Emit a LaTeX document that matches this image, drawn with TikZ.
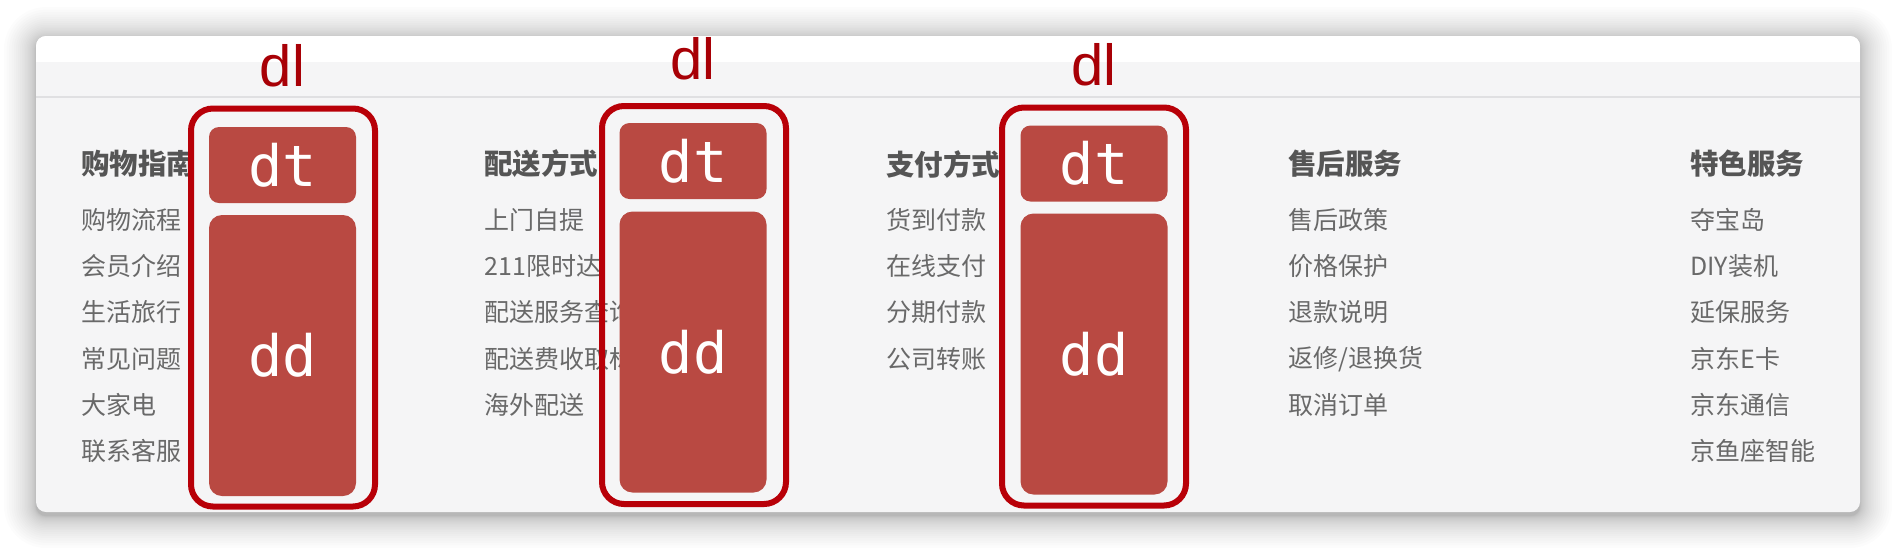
\documentclass[tikz,border=0pt]{standalone}
\usepackage{fontspec}
\setmainfont{Liberation Sans}
\newfontfamily\cjk{Noto Sans CJK SC}
\newfontfamily\mono{DejaVu Sans Mono}
\definecolor{cardbg}{RGB}{245,245,246}
\definecolor{dlred}{RGB}{184,0,8}
\definecolor{boxred}{RGB}{185,73,66}
\definecolor{lblred}{RGB}{168,0,6}
\definecolor{hdrgray}{RGB}{85,85,85}
\definecolor{itmgray}{RGB}{105,105,105}
\definecolor{linegray}{RGB}{224,224,226}
\begin{document}
\begin{tikzpicture}[x=0.5pt,y=-0.5pt,
  hdr/.style={anchor=west, inner sep=0pt, text=hdrgray, font=\cjk\bfseries\fontsize{14.25}{16}\selectfont},
  itm/.style={anchor=west, inner sep=0pt, text=itmgray, font=\cjk\fontsize{12.5}{14}\selectfont},
  dlbox/.style={draw=dlred, line width=3pt, rounded corners=11pt, minimum width=92pt, minimum height=199pt, inner sep=0pt},
  tbox/.style={fill=boxred, minimum width=73.5pt, inner sep=0pt, text=white, font=\mono\fontsize{28.5}{30}\selectfont},
  dllabel/.style={inner sep=0pt, text=lblred, font=\fontsize{29}{30}\selectfont}]
\useasboundingbox (0,0) rectangle (1896,548);
\fill[white] (0,0) rectangle (1896,548);
% shadow
\foreach \i in {1,...,24} {
  \pgfmathsetmacro\dd{32*(\i/24)^2}
  \pgfmathsetmacro\rr{5+0.5*\dd}
  \fill[black, opacity=0.01, rounded corners=\rr pt] (36-\dd,39-\dd) rectangle (1860+\dd,516+\dd);
}
% card
\fill[cardbg, rounded corners=5pt] (36,36) rectangle (1860,512);
\begin{scope}
  \clip[rounded corners=5pt] (36,36) rectangle (1860,512);
  \fill[white] (36,36) rectangle (1860,62);
  \draw[linegray, line width=1pt] (36,97) -- (1860,97);
\end{scope}
% columns
\node[hdr] (h1) at (81,164) {购物指南};
\node[itm] (a1) at (81,220) {购物流程};
\node[itm] (a2) at (81,266) {会员介绍};
\node[itm] (a3) at (81,312) {生活旅行};
\node[itm] (a4) at (81,359) {常见问题};
\node[itm] (a5) at (81,405) {大家电};
\node[itm] (a6) at (81,451) {联系客服};
\node[hdr] (h2) at (484,164) {配送方式};
\node[itm] (b1) at (484,220) {上门自提};
\node[itm] (b2) at (484,266) {211限时达};
\node[itm] (b3) at (484,312) {配送服务查询};
\node[itm] (b4) at (484,359) {配送费收取标准};
\node[itm] (b5) at (484,405) {海外配送};
\node[hdr] (h3) at (886,164) {支付方式};
\node[itm] (c1) at (886,220) {货到付款};
\node[itm] (c2) at (886,266) {在线支付};
\node[itm] (c3) at (886,312) {分期付款};
\node[itm] (c4) at (886,359) {公司转账};
\node[hdr] (h4) at (1288,164) {售后服务};
\node[itm] (d1) at (1288,220) {售后政策};
\node[itm] (d2) at (1288,266) {价格保护};
\node[itm] (d3) at (1288,312) {退款说明};
\node[itm] (d4) at (1288,359) {返修/退换货};
\node[itm] (d5) at (1288,405) {取消订单};
\node[hdr] (h5) at (1690,164) {特色服务};
\node[itm] (e1) at (1690,220) {夺宝岛};
\node[itm] (e2) at (1690,266) {DIY装机};
\node[itm] (e3) at (1690,312) {延保服务};
\node[itm] (e4) at (1690,359) {京东E卡};
\node[itm] (e5) at (1690,405) {京东通信};
\node[itm] (e6) at (1690,451) {京鱼座智能};
% dl boxes
\node[dlbox] (dl1) at (283,307.5) {};
\node[dlbox] (dl2) at (694,305) {};
\node[dlbox] (dl3) at (1094,306.5) {};
\node[tbox, rounded corners=5pt, minimum height=38pt] (dt1) at (282.5,165) {dt};
\node[tbox, rounded corners=5pt, minimum height=38pt] (dt2) at (693,161) {dt};
\node[tbox, rounded corners=5pt, minimum height=38pt] (dt3) at (1094,163.5) {dt};
\node[tbox, rounded corners=6.5pt, minimum height=140.5pt] (dd1) at (282.5,355.5) {dd};
\node[tbox, rounded corners=6.5pt, minimum height=140.5pt] (dd2) at (693,352) {dd};
\node[tbox, rounded corners=6.5pt, minimum height=140.5pt] (dd3) at (1094,354) {dd};
\node[dllabel] (l1) at (282.5,66) {dl};
\node[dllabel] (l2) at (693,59) {dl};
\node[dllabel] (l3) at (1094,65) {dl};
\end{tikzpicture}
\end{document}
